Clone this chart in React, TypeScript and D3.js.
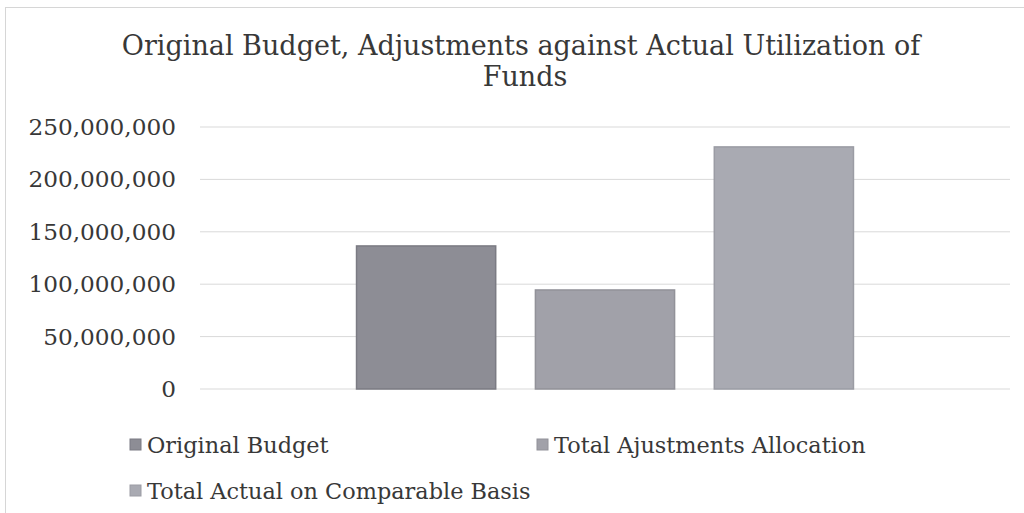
import React from "react";
import * as d3 from "d3";

const categories = ["Funds"];
const seriesNames = ["Original Budget", "Total Ajustments Allocation", "Total Actual on Comparable Basis"];
const seriesValues = [136500000, 94500000, 231000000];
const seriesColors = ["#8d8d95", "#a1a1a9", "#a9aab2"];
const seriesStrokes = ["#7b7b83", "#929299", "#9b9ca4"];
const yTicks = [0, 50000000, 100000000, 150000000, 200000000, 250000000];
const titleLines = ["Original Budget, Adjustments against Actual Utilization of", "Funds"];

const W = 1024;
const H = 513;
const plot = { left: 200, right: 1010, top: 127, bottom: 389 };
const FONT = "'DejaVu Serif', serif";
const TEXT = "#383838";

export default function App() {
  const y = d3.scaleLinear().domain([0, 250000000]).range([plot.bottom, plot.top]);
  const x0 = d3.scaleBand<string>().domain(categories).range([plot.left, plot.right]).paddingInner(0).paddingOuter(0.315);
  const x1 = d3.scaleBand<string>().domain(seriesNames).range([0, x0.bandwidth()]).paddingInner(0.222).paddingOuter(0);
  const fmt = d3.format(",");

  const legend = [
    { x: 130, y: 445 },
    { x: 537, y: 445 },
    { x: 130, y: 491 },
  ];

  return (
    <svg width={W} height={H} style={{ position: "absolute", left: 0, top: 0, background: "#fff" }}>
      <rect x={0} y={0} width={W} height={H} fill="#fff" />
      <rect x={5.5} y={7.5} width={W} height={H} fill="none" stroke="#d6d6d6" strokeWidth={1} />
      {titleLines.map((t, i) => (
        <text key={i} x={521 + i * 4} y={55 + i * 31} textAnchor="middle" fontFamily={FONT} fontSize={27} fill={TEXT}>
          {t}
        </text>
      ))}
      {yTicks.map((t) => (
        <g key={t}>
          <line x1={plot.left} x2={plot.right} y1={y(t)} y2={y(t)} stroke="#d9d9d9" strokeWidth={1} />
          <text x={176} y={y(t) + 8} textAnchor="end" fontFamily={FONT} fontSize={23.2} fill={TEXT}>
            {fmt(t)}
          </text>
        </g>
      ))}
      {categories.map((c) => (
        <g key={c} transform={`translate(${x0(c)},0)`}>
          {seriesNames.map((s, i) => (
            <rect
              key={s}
              x={x1(s)}
              y={y(seriesValues[i])}
              width={x1.bandwidth()}
              height={y(0) - y(seriesValues[i])}
              fill={seriesColors[i]}
              stroke={seriesStrokes[i]}
              strokeWidth={1.5}
            />
          ))}
        </g>
      ))}
      {seriesNames.map((s, i) => (
        <g key={s}>
          <rect x={legend[i].x} y={legend[i].y - 6} width={11} height={11} fill={seriesColors[i]} stroke={seriesStrokes[i]} />
          <text x={legend[i].x + 17} y={legend[i].y + 8} fontFamily={FONT} fontSize={22.4} fill={TEXT}>
            {s}
          </text>
        </g>
      ))}
    </svg>
  );
}
